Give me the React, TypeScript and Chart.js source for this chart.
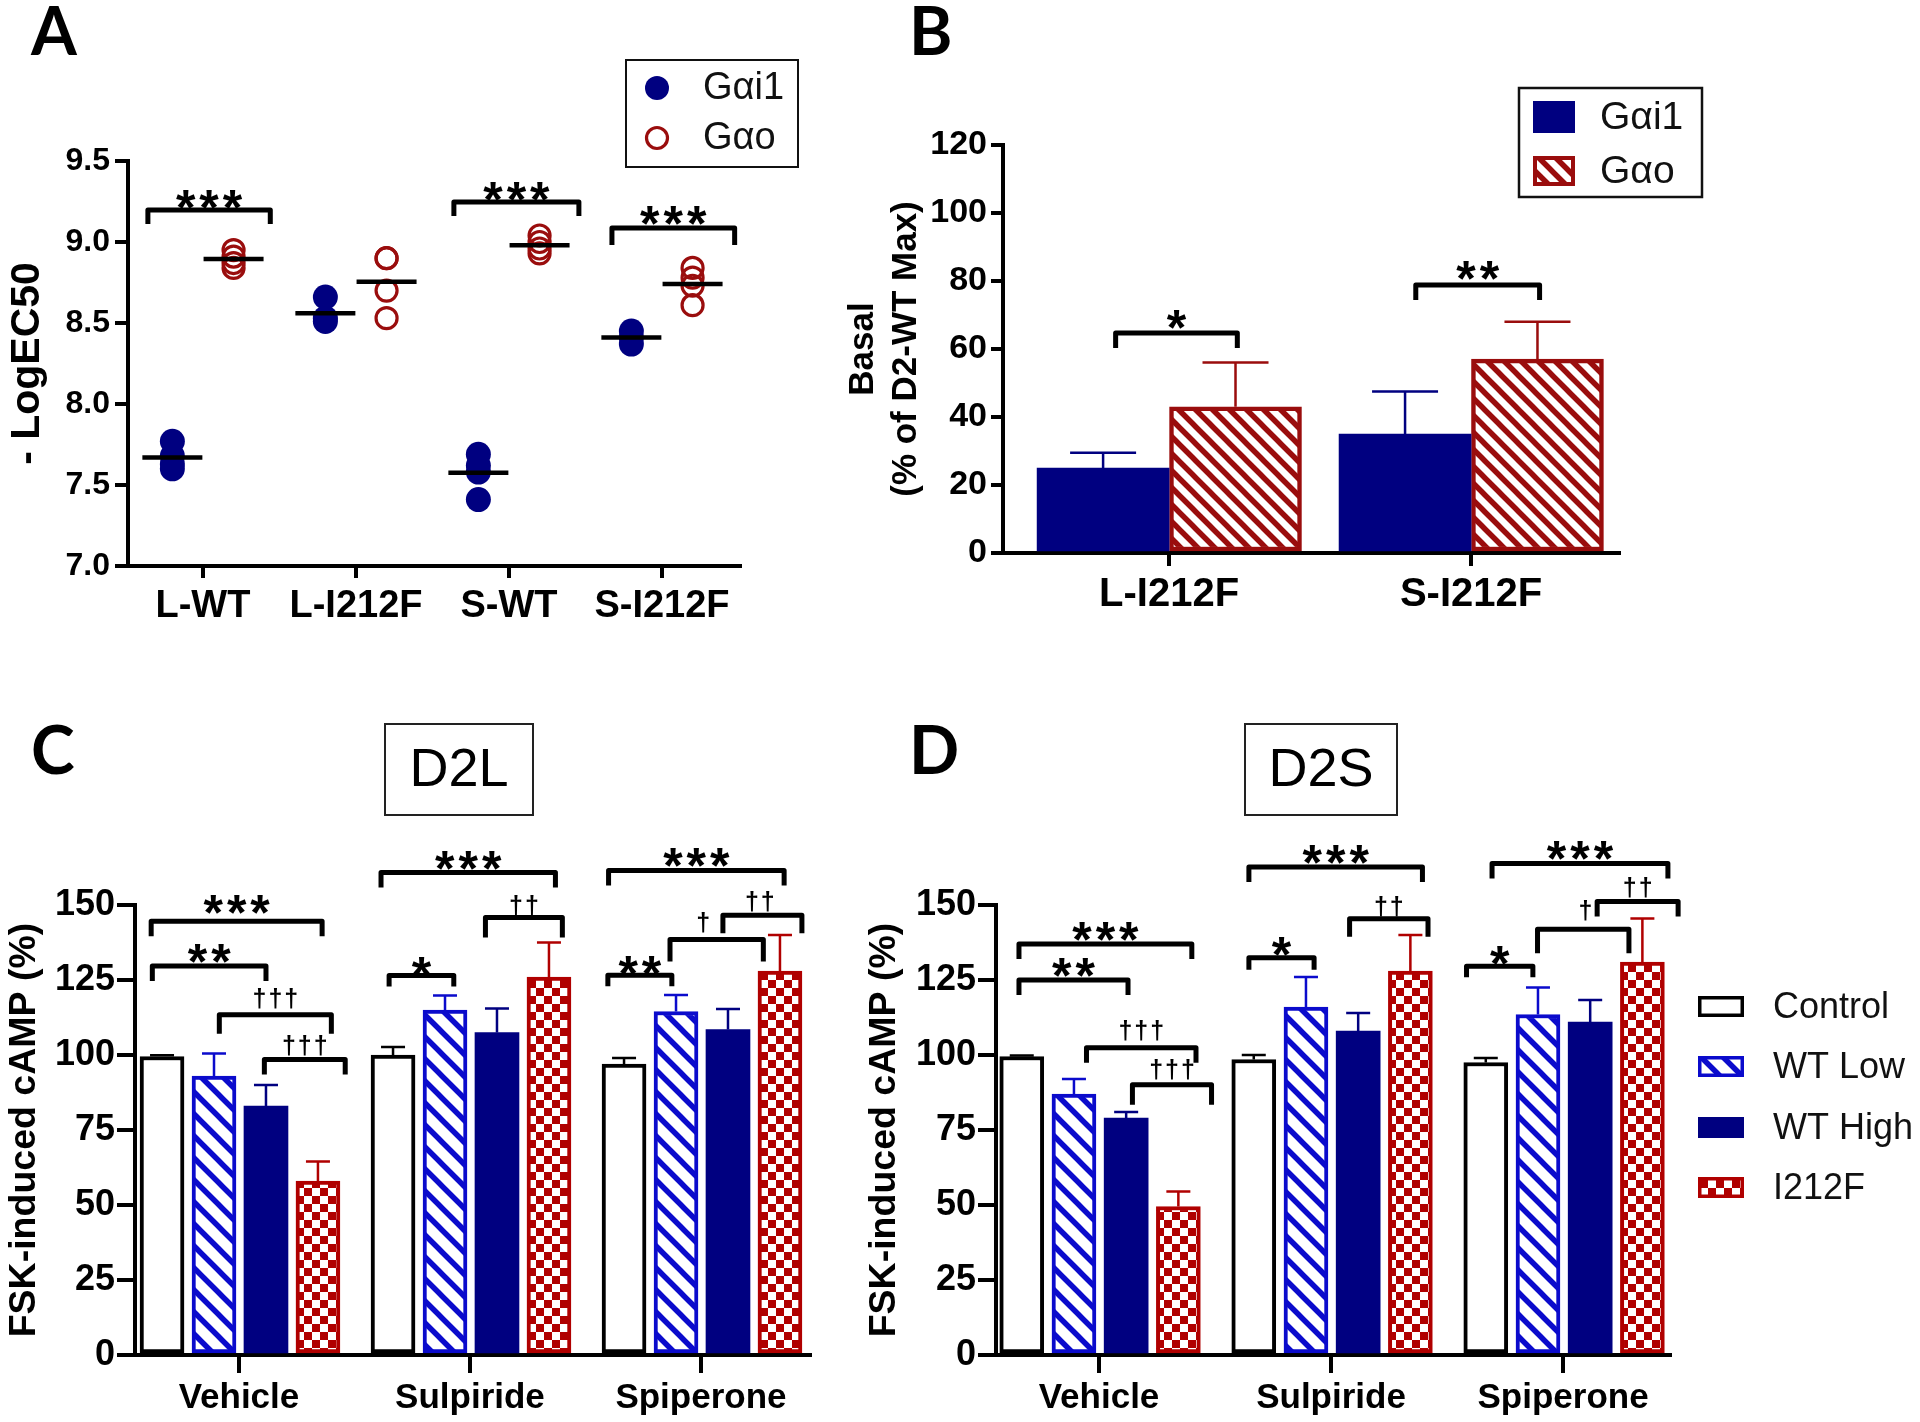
import React, { useEffect, useRef } from "react";
import { Chart, registerables } from "chart.js";

Chart.register(...registerables);

const FONT = "'Liberation Sans', Arial, Helvetica, sans-serif";
const LETTER_FONT = "Lato, 'Open Sans', 'Liberation Sans', sans-serif";
const NAVY = "#000080";
const BLUE = "#0b0bcc";
const DARK_RED = "#9a0d0d";
const RED = "#b00000";
const BLACK = "#000000";

// ---------------- Panel A data ----------------
const aCategories = ["L-WT", "L-I212F", "S-WT", "S-I212F"];
const aGai1Points = [
  [7.77, 7.68, 7.63, 7.6],
  [8.66, 8.53, 8.51],
  [7.69, 7.62, 7.58, 7.41],
  [8.45, 8.41, 8.37],
];
const aGaoPoints = [
  [8.95, 8.91, 8.87, 8.84],
  [8.9, 8.9, 8.7, 8.53],
  [9.04, 9.0, 8.96, 8.93],
  [8.84, 8.78, 8.73, 8.61],
];
const aGai1Mean = [7.67, 8.56, 7.575, 8.41];
const aGaoMean = [8.895, 8.755, 8.98, 8.74];
const aYTicks = [7.0, 7.5, 8.0, 8.5, 9.0, 9.5];

// ---------------- Panel B data ----------------
const bCategories = ["L-I212F", "S-I212F"];
const bGai1 = [25, 35];
const bGai1Sem = [4.5, 12.5];
const bGao = [43, 57];
const bGaoSem = [13, 11];
const bYTicks = [0, 20, 40, 60, 80, 100, 120];

// ---------------- Panels C & D data ----------------
const cdCategories = ["Vehicle", "Sulpiride", "Spiperone"];
const cdSeries = ["Control", "WT Low", "WT High", "I212F"];
const cdYTicks = [0, 25, 50, 75, 100, 125, 150];

const cControl = [99.5, 100, 97];
const cControlSem = [0.4, 2.7, 2];
const cWtLow = [93, 115, 114.5];
const cWtLowSem = [7.5, 4.8, 5.5];
const cWtHigh = [83, 107.5, 108.5];
const cWtHighSem = [7, 8, 6.8];
const cI212F = [58, 126, 128];
const cI212FSem = [6.5, 11.5, 12];

const dControl = [99.5, 98.5, 97.5];
const dControlSem = [0.3, 1.5, 1.5];
const dWtLow = [87, 116, 113.5];
const dWtLowSem = [5, 10, 9];
const dWtHigh = [79, 108, 111];
const dWtHighSem = [2, 6, 7.3];
const dI212F = [49.5, 128, 131];
const dI212FSem = [5, 12, 14.5];

// ---------------- significance annotations ----------------
type Bracket = { x1: number; x2: number; y: number; text: string; ty: number; tx?: number; drop?: number };

const aBrackets: Bracket[] = [
  { x1: 0.64, x2: 1.44, y: 9.197, text: "***", ty: 9.284 },
  { x1: 2.64, x2: 3.457, y: 9.247, text: "***", ty: 9.335 },
  { x1: 3.673, x2: 4.475, y: 9.086, text: "***", ty: 9.185, drop: 17 },
];
const bBrackets: Bracket[] = [
  { x1: 0.823, x2: 1.226, y: 64.7, text: "*", ty: 69.7 },
  { x1: 1.817, x2: 2.227, y: 78.8, text: "**", ty: 84.1 },
];
const cBrackets: Bracket[] = [
  { x1: 0.62, x2: 1.36, y: 144.6, text: "***", ty: 151.5 },
  { x1: 0.625, x2: 1.117, y: 129.7, text: "**", ty: 135 },
  { x1: 0.915, x2: 1.4, y: 113.4, text: "†††", ty: 118.6, drop: 19 },
  { x1: 1.11, x2: 1.46, y: 98.5, text: "†††", ty: 102.8 },
  { x1: 1.615, x2: 2.37, y: 160.8, text: "***", ty: 166 },
  { x1: 1.65, x2: 1.93, y: 126.5, text: "*", ty: 130.8, drop: 11 },
  { x1: 2.067, x2: 2.4, y: 145.8, text: "††", ty: 149.5, drop: 20 },
  { x1: 2.6, x2: 3.36, y: 161.5, text: "***", ty: 167 },
  { x1: 2.597, x2: 2.874, y: 126.6, text: "**", ty: 131, drop: 11 },
  { x1: 2.866, x2: 3.27, y: 138.5, text: "†", ty: 143.8, tx: 3.01, drop: 22 },
  { x1: 3.095, x2: 3.437, y: 146.6, text: "††", ty: 150.8, tx: 3.255, drop: 18 },
];
const dBrackets: Bracket[] = [
  { x1: 0.655, x2: 1.4, y: 137, text: "***", ty: 142.5 },
  { x1: 0.655, x2: 1.125, y: 125, text: "**", ty: 130.5 },
  { x1: 0.946, x2: 1.418, y: 102.4, text: "†††", ty: 107.8 },
  { x1: 1.144, x2: 1.485, y: 90.1, text: "†††", ty: 94.7, drop: 20 },
  { x1: 1.646, x2: 2.394, y: 162.7, text: "***", ty: 168 },
  { x1: 1.646, x2: 1.927, y: 132.4, text: "*", ty: 137.5, drop: 12 },
  { x1: 2.08, x2: 2.418, y: 145.4, text: "††", ty: 149.2, drop: 18 },
  { x1: 2.694, x2: 3.452, y: 163.8, text: "***", ty: 169.2 },
  { x1: 2.584, x2: 2.87, y: 129.6, text: "*", ty: 134.5, drop: 11 },
  { x1: 2.89, x2: 3.284, y: 141.9, text: "†", ty: 148, tx: 3.097, drop: 24 },
  { x1: 3.147, x2: 3.496, y: 151.2, text: "††", ty: 155.4, drop: 15 },
];

// ---------------- helpers ----------------
function hatchPattern(color: string, size: number, lw: number): CanvasPattern | string {
  const c = document.createElement("canvas");
  c.width = size;
  c.height = size;
  const g = c.getContext("2d");
  if (!g) return color;
  g.fillStyle = "#ffffff";
  g.fillRect(0, 0, size, size);
  g.strokeStyle = color;
  g.lineWidth = lw;
  g.beginPath();
  for (let k = -1; k <= 1; k++) {
    g.moveTo(k * size - size, -size);
    g.lineTo(k * size + 2 * size, 2 * size);
  }
  g.stroke();
  return g.createPattern(c, "repeat") || color;
}

function checkerPattern(color: string, cell: number): CanvasPattern | string {
  const c = document.createElement("canvas");
  c.width = cell * 2;
  c.height = cell * 2;
  const g = c.getContext("2d");
  if (!g) return color;
  g.fillStyle = color;
  g.fillRect(0, 0, cell * 2, cell * 2);
  g.fillStyle = "#ffffff";
  g.fillRect(0, 0, cell, cell);
  g.fillRect(cell, cell, cell, cell);
  return g.createPattern(c, "repeat") || color;
}

function drawBrackets(chart: any, list: Bracket[], defaultDrop: number) {
  const ctx: CanvasRenderingContext2D = chart.ctx;
  const xs = chart.scales.x;
  const ys = chart.scales.y;
  ctx.save();
  for (const b of list) {
    const x1 = xs.getPixelForValue(b.x1);
    const x2 = xs.getPixelForValue(b.x2);
    const y = ys.getPixelForValue(b.y);
    const d = b.drop ?? defaultDrop;
    ctx.strokeStyle = BLACK;
    ctx.lineWidth = 5;
    ctx.lineJoin = "round";
    ctx.lineCap = "butt";
    ctx.beginPath();
    ctx.moveTo(x1, y + d);
    ctx.lineTo(x1, y);
    ctx.lineTo(x2, y);
    ctx.lineTo(x2, y + d);
    ctx.stroke();

    const isStar = b.text.includes("*");
    const size = isStar ? 50 : 25;
    const spacing = isStar ? 4 : 2;
    ctx.font = `bold ${size}px ${FONT}`;
    (ctx as any).letterSpacing = `${spacing}px`;
    ctx.textAlign = "center";
    ctx.textBaseline = "alphabetic";
    ctx.fillStyle = BLACK;
    const tx = xs.getPixelForValue(b.tx ?? (b.x1 + b.x2) / 2) + spacing / 2;
    const ty = ys.getPixelForValue(b.ty) + (isStar ? 0.58 : 0.3) * size;
    ctx.fillText(b.text, tx, ty);
    (ctx as any).letterSpacing = "0px";
  }
  ctx.restore();
}

function drawErrors(chart: any, sems: number[][], colors: string[], capW: number, lw: number) {
  const ctx: CanvasRenderingContext2D = chart.ctx;
  const ys = chart.scales.y;
  ctx.save();
  ctx.lineWidth = lw;
  ctx.lineCap = "butt";
  sems.forEach((arr, d) => {
    const meta = chart.getDatasetMeta(d);
    meta.data.forEach((el: any, i: number) => {
      const raw: any = chart.data.datasets[d].data[i];
      const top = ys.getPixelForValue(raw.y + arr[i]);
      ctx.strokeStyle = colors[d];
      ctx.beginPath();
      ctx.moveTo(el.x, el.y);
      ctx.lineTo(el.x, top);
      ctx.moveTo(el.x - capW / 2, top);
      ctx.lineTo(el.x + capW / 2, top);
      ctx.stroke();
    });
  });
  ctx.restore();
}

function drawLetter(ctx: CanvasRenderingContext2D, letter: string, x: number, baseline: number) {
  ctx.save();
  ctx.font = `bold 66px ${LETTER_FONT}`;
  ctx.fillStyle = BLACK;
  ctx.textAlign = "left";
  ctx.textBaseline = "alphabetic";
  ctx.fillText(letter, x, baseline);
  ctx.restore();
}

function drawTitleBox(ctx: CanvasRenderingContext2D, text: string, x: number, y: number, w: number, h: number) {
  ctx.save();
  ctx.strokeStyle = "#222";
  ctx.lineWidth = 2;
  ctx.strokeRect(x, y, w, h);
  ctx.font = `54px ${FONT}`;
  ctx.fillStyle = BLACK;
  ctx.textAlign = "center";
  ctx.textBaseline = "middle";
  ctx.fillText(text, x + w / 2, y + h / 2 + 2);
  ctx.restore();
}

function swatch(ctx: CanvasRenderingContext2D, x: number, y: number, w: number, h: number, fill: any, stroke: string, lw: number) {
  ctx.save();
  ctx.fillStyle = fill;
  ctx.fillRect(x, y, w, h);
  if (lw > 0) {
    ctx.strokeStyle = stroke;
    ctx.lineWidth = lw;
    ctx.strokeRect(x + lw / 2, y + lw / 2, w - lw, h - lw);
  }
  ctx.restore();
}

function catAxis(cats: string[], min: number, max: number, fontSize: number, tickLen: number, pad: number, height: number) {
  return {
    type: "linear",
    min,
    max,
    offset: false,
    afterBuildTicks: (s: any) => {
      s.ticks = cats.map((_, i) => ({ value: i + 1 }));
    },
    afterFit: (s: any) => {
      s.height = height;
    },
    ticks: {
      autoSkip: false,
      maxRotation: 0,
      minRotation: 0,
      padding: pad,
      color: BLACK,
      font: { family: FONT, size: fontSize, weight: "bold" },
      callback: (v: any) => cats[Math.round(Number(v)) - 1] ?? "",
    },
    grid: {
      display: true,
      drawOnChartArea: false,
      drawTicks: true,
      offset: false,
      tickLength: tickLen,
      tickWidth: 4,
      tickColor: BLACK,
      lineWidth: 4,
      color: BLACK,
    },
    border: { display: true, color: BLACK, width: 4 },
  };
}

function valAxis(
  min: number,
  max: number,
  ticks: number[],
  fmt: (v: number) => string,
  fontSize: number,
  tickLen: number,
  pad: number,
  width: number,
  title: string | string[],
  titleSize: number,
  titlePad: number,
  titleLineHeight: number
) {
  return {
    type: "linear",
    min,
    max,
    afterBuildTicks: (s: any) => {
      s.ticks = ticks.map((v) => ({ value: v }));
    },
    afterFit: (s: any) => {
      s.width = width;
    },
    ticks: {
      autoSkip: false,
      padding: pad,
      color: BLACK,
      font: { family: FONT, size: fontSize, weight: "bold" },
      callback: (v: any) => fmt(Number(v)),
    },
    grid: {
      display: true,
      drawOnChartArea: false,
      drawTicks: true,
      tickLength: tickLen,
      tickWidth: 4,
      tickColor: BLACK,
      lineWidth: 4,
      color: BLACK,
    },
    border: { display: true, color: BLACK, width: 4 },
    title: {
      display: true,
      text: title,
      color: BLACK,
      font: { family: FONT, size: titleSize, weight: "bold", lineHeight: titleLineHeight },
      padding: { top: titlePad, bottom: 0 },
    },
  };
}

const baseOptions = (padding: any) => ({
  animation: false,
  responsive: false,
  maintainAspectRatio: false,
  devicePixelRatio: 1,
  events: [],
  layout: { padding },
  plugins: { legend: { display: false }, tooltip: { enabled: false } },
});

// ---------------- chart builders ----------------
function buildA() {
  return {
    type: "scatter",
    data: {
      datasets: [
        {
          label: "mean Gαi1",
          data: aGai1Mean.map((v, i) => ({ x: i + 1 - 0.2, y: v })),
          pointStyle: "line",
          pointRadius: 30,
          borderWidth: 4.5,
          borderColor: BLACK,
          backgroundColor: BLACK,
        },
        {
          label: "mean Gαo",
          data: aGaoMean.map((v, i) => ({ x: i + 1 + 0.2, y: v })),
          pointStyle: "line",
          pointRadius: 30,
          borderWidth: 4.5,
          borderColor: BLACK,
          backgroundColor: BLACK,
        },
        {
          label: "Gαi1",
          data: aGai1Points.flatMap((arr, i) => arr.map((v) => ({ x: i + 1 - 0.2, y: v }))),
          pointRadius: 12.5,
          backgroundColor: NAVY,
          borderColor: NAVY,
          borderWidth: 0,
        },
        {
          label: "Gαo",
          data: aGaoPoints.flatMap((arr, i) => arr.map((v) => ({ x: i + 1 + 0.2, y: v }))),
          pointRadius: 10.5,
          backgroundColor: "rgba(255,255,255,0)",
          borderColor: DARK_RED,
          borderWidth: 3.2,
        },
      ],
    },
    options: {
      ...baseOptions({ left: 0, top: 161, right: 120, bottom: 0 }),
      scales: {
        x: catAxis(aCategories, 0.51, 4.51, 38, 12, 6, 134),
        y: valAxis(7, 9.5, aYTicks, (v) => v.toFixed(1), 32, 13, 5, 128, "- LogEC50", 41, 3, 1.2),
      },
    },
    plugins: [
      {
        id: "panelA",
        afterDraw(chart: any) {
          const ctx: CanvasRenderingContext2D = chart.ctx;
          drawBrackets(chart, aBrackets, 14);
          drawLetter(ctx, "A", 31, 55);
          ctx.save();
          ctx.strokeStyle = "#111";
          ctx.lineWidth = 2;
          ctx.strokeRect(626, 60, 172, 107);
          ctx.fillStyle = NAVY;
          ctx.beginPath();
          ctx.arc(657, 88, 12, 0, Math.PI * 2);
          ctx.fill();
          ctx.strokeStyle = DARK_RED;
          ctx.lineWidth = 3.2;
          ctx.beginPath();
          ctx.arc(657, 138, 10.5, 0, Math.PI * 2);
          ctx.stroke();
          ctx.font = `38px ${FONT}`;
          ctx.fillStyle = "#111";
          ctx.textAlign = "left";
          ctx.textBaseline = "middle";
          ctx.fillText("Gαi1", 703, 89);
          ctx.fillText("Gαo", 703, 139);
          ctx.restore();
        },
      },
    ],
  };
}

function buildB() {
  const gaoHatch = hatchPattern(DARK_RED, 17, 5.5);
  return {
    type: "bar",
    data: {
      datasets: [
        {
          label: "Gαi1",
          data: bGai1.map((v, i) => ({ x: i + 1 - 0.2185, y: v })),
          backgroundColor: NAVY,
          borderColor: NAVY,
          borderWidth: 0,
          barThickness: 132,
          maxBarThickness: 132,
          grouped: false,
        },
        {
          label: "Gαo",
          data: bGao.map((v, i) => ({ x: i + 1 + 0.22, y: v })),
          backgroundColor: gaoHatch,
          borderColor: DARK_RED,
          borderWidth: 4.5,
          borderSkipped: false,
          barThickness: 132,
          maxBarThickness: 132,
          grouped: false,
        },
      ],
    },
    options: {
      ...baseOptions({ left: 0, top: 145, right: 301, bottom: 0 }),
      scales: {
        x: catAxis(bCategories, 0.45, 2.49, 40, 13, 5, 147),
        y: valAxis(0, 120, bYTicks, (v) => String(v), 34, 12, 4, 183, ["Basal", "(% of D2-WT Max)"], 35, 22, 1.23),
      },
    },
    plugins: [
      {
        id: "panelBErr",
        afterDatasetsDraw(chart: any) {
          drawErrors(chart, [bGai1Sem, bGaoSem], [NAVY, DARK_RED], 66, 2.5);
        },
      },
      {
        id: "panelB",
        afterDraw(chart: any) {
          const ctx: CanvasRenderingContext2D = chart.ctx;
          drawBrackets(chart, bBrackets, 15);
          drawLetter(ctx, "B", 89, 55);
          ctx.save();
          ctx.strokeStyle = "#111";
          ctx.lineWidth = 2.5;
          ctx.strokeRect(699, 88, 183, 109);
          ctx.restore();
          swatch(ctx, 713, 101, 42, 32, NAVY, NAVY, 0);
          swatch(ctx, 713, 156, 42, 30, gaoHatch, DARK_RED, 4);
          ctx.save();
          ctx.font = `39px ${FONT}`;
          ctx.fillStyle = "#111";
          ctx.textAlign = "left";
          ctx.textBaseline = "middle";
          ctx.fillText("Gαi1", 780, 118);
          ctx.fillText("Gαo", 780, 172);
          ctx.restore();
        },
      },
    ],
  };
}

function buildCD(
  values: number[][],
  sems: number[][],
  brackets: Bracket[],
  xmin: number,
  xmax: number,
  rightPad: number,
  yWidth: number,
  letter: string,
  letterX: number,
  title: string,
  titleBox: number[],
  withLegend: boolean
) {
  const offsets = [-0.333, -0.108, 0.117, 0.342];
  const blueHatch = hatchPattern(BLUE, 22, 5.5);
  const checker = checkerPattern(RED, 8);
  const styles = [
    { backgroundColor: "#ffffff", borderColor: BLACK, borderWidth: 4 },
    { backgroundColor: blueHatch, borderColor: BLUE, borderWidth: 4 },
    { backgroundColor: NAVY, borderColor: NAVY, borderWidth: 0 },
    { backgroundColor: checker, borderColor: RED, borderWidth: 4 },
  ];
  const errColors = [BLACK, BLUE, NAVY, RED];
  return {
    type: "bar",
    data: {
      datasets: cdSeries.map((name, s) => ({
        label: name,
        data: values[s].map((v, i) => ({ x: i + 1 + offsets[s], y: v })),
        barThickness: 44,
        maxBarThickness: 44,
        grouped: false,
        borderSkipped: false,
        ...styles[s],
      })),
    },
    options: {
      ...baseOptions({ left: 0, top: 205, right: rightPad, bottom: 0 }),
      scales: {
        x: catAxis(cdCategories, xmin, xmax, 35, 18, 4, 67),
        y: valAxis(0, 150, cdYTicks, (v) => String(v), 36, 18, 2, yWidth, "FSK-induced cAMP (%)", 37.5, 2, 1.2),
      },
    },
    plugins: [
      {
        id: "cdErr",
        afterDatasetsDraw(chart: any) {
          drawErrors(chart, sems, errColors, 24, 2.5);
        },
      },
      {
        id: "cdAnn",
        afterDraw(chart: any) {
          const ctx: CanvasRenderingContext2D = chart.ctx;
          drawBrackets(chart, brackets, 15);
          drawLetter(ctx, letter, letterX, 74);
          drawTitleBox(ctx, title, titleBox[0], titleBox[1], titleBox[2], titleBox[3]);
          if (withLegend) {
            const ys = [296, 356, 417, 477];
            ys.forEach((y, s) => {
              swatch(ctx, 838, y, 46, 21, styles[s].backgroundColor, styles[s].borderColor, s === 2 ? 0 : 3.5);
            });
            ctx.save();
            ctx.font = `36px ${FONT}`;
            ctx.fillStyle = "#111";
            ctx.textAlign = "left";
            ctx.textBaseline = "middle";
            cdSeries.forEach((name, s) => ctx.fillText(name, 913, ys[s] + 12));
            ctx.restore();
          }
        },
      },
    ],
  };
}

type Spec = { key: string; left: number; top: number; width: number; height: number; build: () => any };

const specs: Spec[] = [
  { key: "A", left: 0, top: 0, width: 860, height: 700, build: buildA },
  { key: "B", left: 820, top: 0, width: 1100, height: 700, build: buildB },
  {
    key: "C",
    left: 0,
    top: 700,
    width: 860,
    height: 722,
    build: () =>
      buildCD(
        [cControl, cWtLow, cWtHigh, cI212F],
        [cControlSem, cWtLowSem, cWtHighSem, cI212FSem],
        cBrackets,
        0.55,
        3.472,
        50,
        135,
        "C",
        31,
        "D2L",
        [385, 24, 148, 91],
        false
      ),
  },
  {
    key: "D",
    left: 860,
    top: 700,
    width: 1060,
    height: 722,
    build: () =>
      buildCD(
        [dControl, dWtLow, dWtHigh, dI212F],
        [dControlSem, dWtLowSem, dWtHighSem, dI212FSem],
        dBrackets,
        0.556,
        3.461,
        250,
        136,
        "D",
        49,
        "D2S",
        [385, 24, 152, 91],
        true
      ),
  },
];

function ChartBox({ spec }: { spec: Spec }) {
  const ref = useRef<HTMLCanvasElement | null>(null);
  useEffect(() => {
    if (!ref.current) return;
    const chart = new Chart(ref.current, spec.build());
    return () => chart.destroy();
  }, [spec]);
  return (
    <div style={{ position: "absolute", left: spec.left, top: spec.top, width: spec.width, height: spec.height }}>
      <canvas
        ref={ref}
        width={spec.width}
        height={spec.height}
        style={{ width: spec.width, height: spec.height, display: "block" }}
      />
    </div>
  );
}

export default function App() {
  return (
    <div
      style={{
        position: "absolute",
        left: 0,
        top: 0,
        width: 1920,
        height: 1422,
        background: "#ffffff",
        overflow: "hidden",
      }}
    >
      {specs.map((s) => (
        <ChartBox key={s.key} spec={s} />
      ))}
    </div>
  );
}
